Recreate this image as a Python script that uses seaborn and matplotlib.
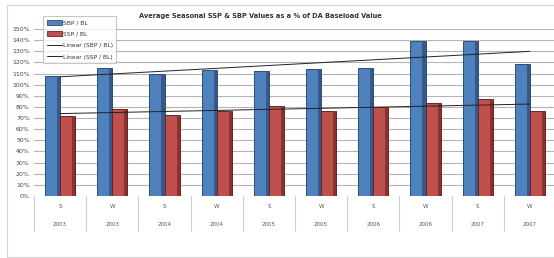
import numpy as np
import pandas as pd
import matplotlib
matplotlib.use('Agg')
import matplotlib.pyplot as plt
import seaborn as sns
from matplotlib.patches import Patch, Rectangle
from matplotlib.lines import Line2D

seasons = ['S', 'W', 'S', 'W', 'S', 'W', 'S', 'W', 'S', 'W']
years = ['2003', '2003', '2004', '2004', '2005', '2005', '2006', '2006', '2007', '2007']
sbp = [108, 115, 110, 113.5, 112, 114.5, 115, 139, 139, 119]
ssp = [72, 78, 73, 76.5, 81, 76, 80, 83.5, 87, 76]
series = ['SBP / BL', 'SSP / BL']

cats = [f'{s} {y} {i}' for i, (s, y) in enumerate(zip(seasons, years))]
df = pd.DataFrame({
    'cat': cats * 2,
    'series': [series[0]] * len(cats) + [series[1]] * len(cats),
    'value': sbp + ssp,
})

sns.set_style('white')
plt.rcParams['font.family'] = ['DejaVu Sans']

fig = plt.figure(figsize=(5.54, 2.58), dpi=100)
ax = fig.add_axes([34 / 554, 1 - 196 / 258, 522 / 554, 167 / 258])

colors = ['#4f81bd', '#c0504d']
edges = ['#2c4d75', '#632523']
shades = ['#34598a', '#8a3230']
sns.barplot(data=df, x='cat', y='value', hue='series', palette=colors,
            width=0.58, ax=ax, legend=False, saturation=1)
for i, bars in enumerate(ax.containers):
    for b in bars:
        b.set_edgecolor(edges[i])
        b.set_linewidth(0.7)
        # darker right side for the 3D look of the original
        bx, bw, bh = b.get_x(), b.get_width(), b.get_height()
        ax.add_patch(Rectangle((bx + bw * 0.8, 0), bw * 0.2, bh, facecolor=shades[i],
                               edgecolor='none', zorder=b.get_zorder() + 0.1))

# linear trend lines
x = np.arange(len(cats))
for vals in (sbp, ssp):
    k, c = np.polyfit(x, vals, 1)
    ax.plot(x, k * x + c, color='#222222', lw=0.7, zorder=4)

ax.set_ylim(0, 150)
ax.set_xlim(-0.5, len(cats) - 0.5)
ax.set_yticks(range(0, 151, 10))
ax.set_yticklabels([f'{v}%' for v in range(0, 151, 10)], fontsize=4.5, color='#444444')
ax.yaxis.grid(True, color='#b4b4b4', lw=0.8)
ax.set_axisbelow(True)
ax.tick_params(axis='y', length=0, pad=3)
ax.set_xticks([])
ax.set_xlabel('')
ax.set_ylabel('')
for s in ax.spines.values():
    s.set_visible(False)

# two-level category labels
trans = ax.get_xaxis_transform()
for i, (s, y) in enumerate(zip(seasons, years)):
    ax.text(i, -0.06, s, transform=trans, ha='center', va='center', fontsize=4, color='#555555')
    ax.text(i, -0.17, y, transform=trans, ha='center', va='center', fontsize=4, color='#555555')
for i in range(len(cats) + 1):
    ax.plot([i - 0.5, i - 0.5], [0, -0.21], transform=trans, color='#d0d0d0', lw=0.8, clip_on=False)

fig.text(260 / 554, 1 - 16 / 258, 'Average Seasonal SSP & SBP Values as a % of DA Baseload Value',
         ha='center', va='center', fontsize=4.8, fontweight='bold', color='#333333')

handles = [Patch(facecolor=colors[0], edgecolor=edges[0], lw=0.6),
           Patch(facecolor=colors[1], edgecolor=edges[1], lw=0.6),
           Line2D([], [], color='#222222', lw=0.7),
           Line2D([], [], color='#222222', lw=0.7)]
labels = series + ['Linear (SBP / BL)', 'Linear (SSP / BL)']
leg = fig.legend(handles, labels, loc='upper left', bbox_to_anchor=(40 / 554, 1 - 13 / 258),
                 fontsize=4.3, frameon=True, fancybox=False, handlelength=2.6, handleheight=0.9,
                 labelspacing=1.0, borderpad=0.6, handletextpad=0.1, labelcolor='#333333')
leg.get_frame().set_edgecolor('#bbbbbb')
leg.get_frame().set_linewidth(0.8)
leg.set_zorder(10)

fig.patches.append(Rectangle((7 / 554, 1 / 258), 560 / 554, 252 / 258, transform=fig.transFigure,
                             fill=False, edgecolor='#d6d6d6', lw=0.8))

fig.savefig('out.png', dpi=100)
